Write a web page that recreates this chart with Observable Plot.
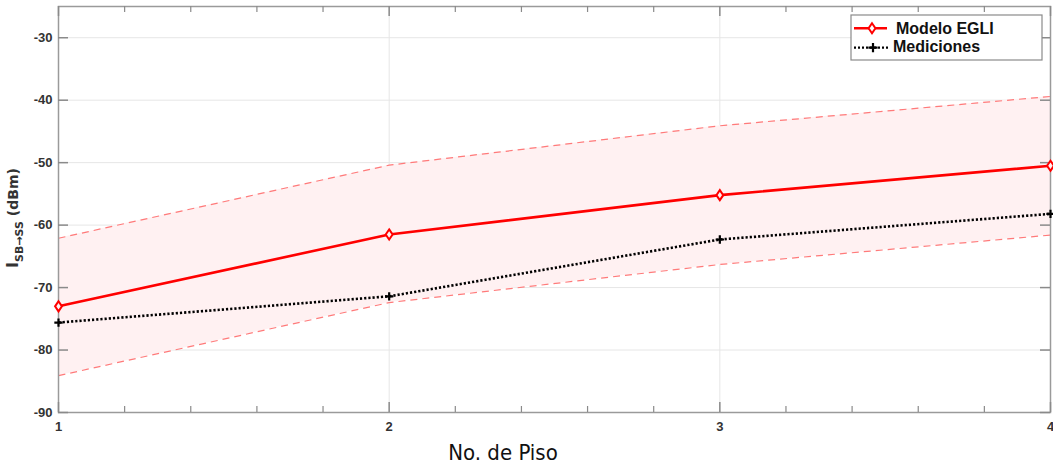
<!DOCTYPE html>
<html>
<head>
<meta charset="utf-8">
<script src="https://cdn.jsdelivr.net/npm/d3@7"></script>
<script src="https://cdn.jsdelivr.net/npm/@observablehq/plot@0.6"></script>
<style>
  html, body { margin: 0; padding: 0; background: #fff; }
  #chart { position: relative; width: 1053px; height: 466px; }
</style>
</head>
<body>
<div id="chart"></div>
<script>
// Data
const pisos = [1, 2, 3, 4];
const modeloEgli = [-73.0, -61.5, -55.2, -50.5];
const mediciones = [-75.6, -71.4, -62.3, -58.2];
const limiteSuperior = [-62.1, -50.4, -44.1, -39.4];
const limiteInferior = [-84.1, -72.4, -66.3, -61.6];
const yTicks = [-90, -80, -70, -60, -50, -40, -30];
const xTicks = [1, 2, 3, 4];
const xMinorTicks = [1.2, 1.4, 1.6, 1.8, 2.2, 2.4, 2.6, 2.8, 3.2, 3.4, 3.6, 3.8];
const seriesNames = ["Modelo EGLI", "Mediciones"];

const rows = pisos.map((p, i) => ({
  piso: p, egli: modeloEgli[i], med: mediciones[i],
  sup: limiteSuperior[i], inf: limiteInferior[i]
}));

// elongated (MATLAB-like) diamond
const diamondTall = {
  draw(ctx, size) {
    const h = Math.sqrt(size) * 0.75, w = h * 0.68;
    ctx.moveTo(0, -h); ctx.lineTo(w, 0); ctx.lineTo(0, h); ctx.lineTo(-w, 0); ctx.closePath();
  }
};

const W = 1053, H = 466;
const mL = 58, mR = 3, mT = 6, mB = 54;
const frameW = W - mL - mR;
const frameH = H - mT - mB;
const tickFont = "'Liberation Sans', Arial, sans-serif";
const plainFmt = d => String(d);
const tickColor = "#8a8a8a";

const chart = Plot.plot({
  width: W, height: H,
  marginLeft: mL, marginRight: mR, marginTop: mT, marginBottom: mB,
  style: { fontFamily: tickFont, background: "#fff", overflow: "visible" },
  x: { domain: [1, 4], ticks: xTicks, tickFormat: plainFmt, label: null },
  y: { domain: [-90, -25], ticks: yTicks, tickFormat: plainFmt, label: null },
  marks: [
    // grid
    Plot.ruleY(yTicks, { stroke: "#e6e6e6", strokeWidth: 1 }),
    Plot.ruleX(xTicks, { stroke: "#e6e6e6", strokeWidth: 1 }),
    // band
    Plot.areaY(rows, { x: "piso", y1: "inf", y2: "sup", fill: "#fff1f2", fillOpacity: 1 }),
    Plot.lineY(rows, { x: "piso", y: "sup", stroke: "#ff7a7a", strokeWidth: 1.2, strokeDasharray: "7,5", strokeLinecap: "butt" }),
    Plot.lineY(rows, { x: "piso", y: "inf", stroke: "#ff7a7a", strokeWidth: 1.2, strokeDasharray: "7,5", strokeLinecap: "butt" }),
    // frame
    Plot.frame({ stroke: "#9a9a9a", strokeWidth: 1.5 }),
    // inward ticks (left & right)
    Plot.tickY(yTicks, { y: d => d, stroke: tickColor, strokeWidth: 1.5, insetRight: frameW - 10 }),
    Plot.tickY(yTicks, { y: d => d, stroke: tickColor, strokeWidth: 1.5, insetLeft: frameW - 10 }),
    // inward ticks (bottom & top)
    Plot.tickX(xTicks, { x: d => d, stroke: tickColor, strokeWidth: 1.5, insetTop: frameH - 10 }),
    Plot.tickX(xMinorTicks, { x: d => d, stroke: tickColor, strokeWidth: 1.2, insetTop: frameH - 6 }),
    Plot.tickX(xTicks, { x: d => d, stroke: tickColor, strokeWidth: 1.5, insetBottom: frameH - 10 }),
    Plot.tickX(xMinorTicks, { x: d => d, stroke: tickColor, strokeWidth: 1.2, insetBottom: frameH - 6 }),
    // axes labels
    Plot.axisY(yTicks, { tickSize: 0, tickPadding: 6, fontSize: 13, fontWeight: "bold", fill: "#333", label: null, tickFormat: plainFmt }),
    Plot.axisX(xTicks, { tickSize: 0, tickPadding: 9, fontSize: 13, fontWeight: "bold", fill: "#333", label: null, tickFormat: plainFmt }),
    // series
    Plot.lineY(rows, { x: "piso", y: "med", stroke: "#000", strokeWidth: 2.6, strokeDasharray: "2.2,2", strokeLinecap: "butt" }),
    Plot.dot(rows, { x: "piso", y: "med", symbol: "plus", r: 2.8, stroke: "#000", strokeWidth: 2.2 }),
    Plot.lineY(rows, { x: "piso", y: "egli", stroke: "#ff0000", strokeWidth: 2.6 }),
    Plot.dot(rows, { x: "piso", y: "egli", symbol: diamondTall, r: 3.8, stroke: "#ff0000", strokeWidth: 2, fill: "#fff1f2" })
  ]
});

document.getElementById("chart").appendChild(chart);

const svg = d3.select(chart);

// X label
svg.append("text")
  .attr("x", 503).attr("y", 460)
  .attr("text-anchor", "middle")
  .attr("font-family", "'DejaVu Sans Condensed', 'Liberation Sans Narrow', 'Open Sans', sans-serif")
  .attr("font-size", 22)
  .attr("fill", "#111")
  .text("No. de Piso");

// Y label with subscript
const yl = svg.append("text")
  .attr("transform", "translate(18,218) rotate(-90)")
  .attr("text-anchor", "middle")
  .attr("font-family", "'DejaVu Sans', " + tickFont)
  .attr("font-size", 14)
  .attr("font-weight", "bold")
  .attr("fill", "#333");
yl.append("tspan").attr("font-size", 16).text("I");
yl.append("tspan").attr("font-size", 11).attr("dy", 5).text("SB→SS");
yl.append("tspan").attr("dy", -5).text(" (dBm)");

// Legend
const lg = svg.append("g").attr("transform", "translate(851,15)");
lg.append("rect").attr("width", 191).attr("height", 45)
  .attr("fill", "#fff").attr("stroke", "#8a8a8a").attr("stroke-width", 1.2);
// entry 1
lg.append("line").attr("x1", 3).attr("x2", 36).attr("y1", 13.3).attr("y2", 13.3)
  .attr("stroke", "#ff0000").attr("stroke-width", 2.6);
lg.append("path").attr("transform", "translate(21,13.3)")
  .attr("d", d3.symbol(diamondTall, 45)())
  .attr("stroke", "#ff0000").attr("stroke-width", 2).attr("fill", "#fff");
lg.append("text").attr("x", 45).attr("y", 19).attr("text-anchor", "start")
  .attr("font-family", tickFont).attr("font-size", 16).attr("font-weight", "bold").attr("fill", "#111")
  .text(seriesNames[0]);
// entry 2
lg.append("line").attr("x1", 3).attr("x2", 37).attr("y1", 32.7).attr("y2", 32.7)
  .attr("stroke", "#000").attr("stroke-width", 2.2).attr("stroke-dasharray", "2,2");
lg.append("path").attr("transform", "translate(22,32.7)")
  .attr("d", d3.symbol(d3.symbolPlus, 30)())
  .attr("stroke", "#000").attr("stroke-width", 2.2).attr("fill", "none");
lg.append("text").attr("x", 42).attr("y", 36.7).attr("text-anchor", "start")
  .attr("font-family", tickFont).attr("font-size", 16).attr("font-weight", "bold").attr("fill", "#111")
  .text(seriesNames[1]);
</script>
</body>
</html>
